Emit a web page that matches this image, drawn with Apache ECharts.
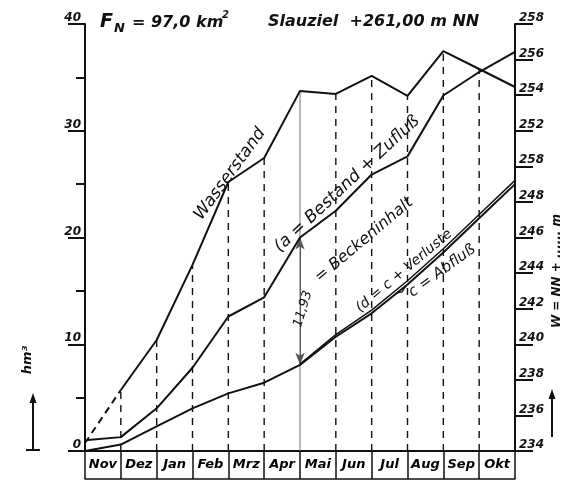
<!DOCTYPE html>
<html>
<head>
<meta charset="utf-8">
<script src="https://cdn.jsdelivr.net/npm/echarts@6/dist/echarts.min.js"></script>
<style>
html,body{margin:0;padding:0;background:#fff;}
#c{width:569px;height:481px;}
</style>
</head>
<body>
<div id="c"></div>
<script>
// ---- data ----
const months = ['Nov','Dez','Jan','Feb','Mrz','Apr','Mai','Jun','Jul','Aug','Sep','Okt'];
const boundaries = [0,1,2,3,4,5,6,7,8,9,10,11,12];
// Wasserstand in m NN (right axis)
const wasserstand = [234.45, 237.43, 240.24, 244.46, 249.12, 250.47, 254.24, 254.07, 255.08, 253.96, 256.48, 255.47, 254.46];
// a = Bestand + Zufluss (hm3)
const bestandZufluss = [1.0, 1.3, 4.0, 7.8, 12.6, 14.4, 20.0, 22.5, 25.9, 27.6, 33.3, 35.5, 37.4];
// c = Abfluss (hm3)
const abfluss = [0, 0.6, 2.3, 4.0, 5.4, 6.4, 8.07, 10.7, 12.9, 15.6, 18.6, 21.8, 25.0];
// d = c + Verluste (hm3)
const abflussVerluste = [null, null, null, null, null, null, 8.15, 10.9, 13.2, 15.95, 18.95, 22.15, 25.35];
const leftTickLabels = ['0','10','20','30','40'];
const rightTickLabels = ['234','236','238','240','242','244','246','248','258','252','254','256','258'];

const FONT = '"DejaVu Sans"';
const INK = '#111111';

function pairs(xs, ys){ const r=[]; for(let i=0;i<xs.length;i++){ if(ys[i]!==null) r.push([xs[i], ys[i]]); } return r; }
// left-unit equivalent of water level (40 hm3 <-> 24 m)
function wsToLeft(m){ return (m-234)/0.6; }
const verticals = [];
for (let k=1;k<=11;k++){ verticals.push([k, Math.max(bestandZufluss[k], wsToLeft(wasserstand[k])), k===6?1:0]); }

const chart = echarts.init(document.getElementById('c'), null, {renderer:'canvas'});
const lineStyle = {color: INK, width: 2};

function rtext(x, y, deg, text, size, weight){
  return {type:'text', x:x, y:y, rotation: deg*Math.PI/180, z:50,
    style:{text:text, font:'italic '+(weight||'normal')+' '+size+'px '+FONT, fill:INK,
      textAlign:'center', textVerticalAlign:'middle', align:'center', verticalAlign:'middle'}};
}
function ttext(x, y, text, size, weight){
  return {type:'text', x:x, y:y, z:50,
    style:{text:text, font:'italic '+(weight||'normal')+' '+size+'px '+FONT, fill:INK,
      textAlign:'left', textVerticalAlign:'top', align:'left', verticalAlign:'top'}};
}

const option = {
  animation: false,
  backgroundColor: '#fff',
  grid: [
    {left: 85, right: 54, top: 24, bottom: 30, containLabel: false},
    {left: 85, right: 54, top: 451, height: 28, containLabel: false}
  ],
  xAxis: [
    {type:'value', gridIndex:0, min:0, max:12, position:'bottom',
     axisLine:{show:true, onZero:false, lineStyle:{color:INK, width:2}},
     axisTick:{show:false}, axisLabel:{show:false}, splitLine:{show:false}},
    {type:'category', gridIndex:1, data: months, position:'bottom', boundaryGap:true,
     axisLine:{show:true, onZero:false, lineStyle:{color:INK, width:1.5}},
     axisTick:{show:true, inside:true, length:28, interval:0, lineStyle:{color:INK, width:1.5}},
     axisLabel:{show:false}, splitLine:{show:false}}
  ],
  yAxis: [
    {type:'value', gridIndex:0, min:0, max:40, interval:10, position:'left',
     axisLine:{show:true, lineStyle:{color:INK, width:2}},
     axisTick:{show:true, length:17, lineStyle:{color:INK, width:2}},
     minorTick:{show:true, splitNumber:2, length:9, lineStyle:{color:INK, width:2}},
     axisLabel:{show:true, margin:4, verticalAlign:'bottom', color:INK, showMinLabel:true, showMaxLabel:true,
       fontFamily:FONT, fontStyle:'italic', fontWeight:'bold', fontSize:12,
       formatter: v => leftTickLabels[Math.round(v/10)]},
     splitLine:{show:false}},
    {type:'value', gridIndex:0, min:234, max:258, interval:2, position:'right',
     axisLine:{show:true, lineStyle:{color:INK, width:2}},
     axisTick:{show:true, length:18, lineStyle:{color:INK, width:2}},
     axisLabel:{show:true, margin:4, verticalAlign:'bottom', color:INK, showMinLabel:true, showMaxLabel:true,
       fontFamily:FONT, fontStyle:'italic', fontWeight:'bold', fontSize:12,
       formatter: v => rightTickLabels[Math.round((v-234)/2)]},
     splitLine:{show:false}},
    {type:'value', gridIndex:1, min:0, max:1, show:false}
  ],
  series: [
    {type:'custom', xAxisIndex:0, yAxisIndex:0, data: verticals, encode:{x:0, y:1}, z:1, silent:true,
     renderItem: function(params, api){
       const k = api.value(0), top = api.value(1), solid = api.value(2);
       const p0 = api.coord([k, 0]); const p1 = api.coord([k, top]);
       return {type:'line', shape:{x1:p0[0], y1:p0[1], x2:p1[0], y2:p1[1]},
         style: solid ? {stroke:'#777', lineWidth:1} : {stroke:INK, lineWidth:1.4, lineDash:[7,6]}};
     }},
    {name:'Wasserstand (Anfang)', type:'line', xAxisIndex:0, yAxisIndex:1, showSymbol:false, z:5,
     data: pairs(boundaries.slice(0,2), wasserstand.slice(0,2)),
     lineStyle:{color:INK, width:2, type:[7,5]}},
    {name:'Wasserstand', type:'line', xAxisIndex:0, yAxisIndex:1, showSymbol:false, z:5,
     data: pairs(boundaries.slice(1), wasserstand.slice(1)), lineStyle: lineStyle},
    {name:'a = Bestand + Zufluß', type:'line', xAxisIndex:0, yAxisIndex:0, showSymbol:false, z:5,
     data: pairs(boundaries, bestandZufluss), lineStyle: lineStyle},
    {name:'c = Abfluß', type:'line', xAxisIndex:0, yAxisIndex:0, showSymbol:false, z:5,
     data: pairs(boundaries, abfluss), lineStyle: {color:INK, width:2},
     markLine:{silent:true, symbol:['arrow','arrow'], symbolSize:[7,12], label:{show:false},
       lineStyle:{color:'#555', width:1, type:'solid'},
       data:[[{coord:[6, abfluss[6]]},{coord:[6, bestandZufluss[6]]}]]}},
    {name:'d = c + Verluste', type:'line', xAxisIndex:0, yAxisIndex:0, showSymbol:false, z:5,
     data: pairs(boundaries, abflussVerluste), lineStyle: {color:INK, width:1.5}},
    {name:'Monate', type:'scatter', xAxisIndex:1, yAxisIndex:2, silent:true, symbolSize:1,
     itemStyle:{color:'rgba(255,255,255,0)'},
     data: months.map(m => [m, 0.5]),
     label:{show:true, position:'inside', color:'#000', textBorderWidth:0, opacity:1,
       fontFamily:FONT, fontStyle:'italic', fontWeight:'bold', fontSize:13,
       formatter: p => p.value[0]}}
  ],
  graphic: [
    ttext(100, 13, 'F', 19, 'bold'),
    ttext(114, 22, 'N', 13, 'bold'),
    ttext(132, 15, '= 97,0 km', 16, 'bold'),
    ttext(222, 10, '2', 10, 'bold'),
    ttext(268, 14, 'Slauziel  +261,00 m NN', 16, 'bold'),
    rtext(230, 174, 54, 'Wasserstand', 17),
    rtext(347, 184, 43, '(a = Bestand + Zufluß', 17),
    rtext(303, 309, 73, '11,93', 13),
    rtext(364, 240, 40, '= Beckeninhalt', 16),
    rtext(404, 271, 40, '(d = c + Verluste', 14),
    rtext(442, 271, 36, 'c = Abfluß', 15),
    rtext(28, 360, 90, 'hm³', 13, 'bold'),
    rtext(557, 271, 90, 'W = NN + ...... m', 12, 'bold'),
    {type:'line', shape:{x1:33, y1:450, x2:33, y2:400}, style:{stroke:INK, lineWidth:2}},
    {type:'line', shape:{x1:26, y1:450, x2:40, y2:450}, style:{stroke:INK, lineWidth:2}},
    {type:'polygon', shape:{points:[[33,393],[29.5,403],[36.5,403]]}, style:{fill:INK}},
    {type:'line', shape:{x1:552, y1:437, x2:552, y2:396}, style:{stroke:INK, lineWidth:2}},
    {type:'polygon', shape:{points:[[552,389],[548.5,399],[555.5,399]]}, style:{fill:INK}},
    {type:'polyline', shape:{points:[[406,286],[402,292],[396,293]]}, style:{stroke:INK, lineWidth:1.3, fill:null}}
  ]
};
chart.setOption(option);
</script>
</body>
</html>
